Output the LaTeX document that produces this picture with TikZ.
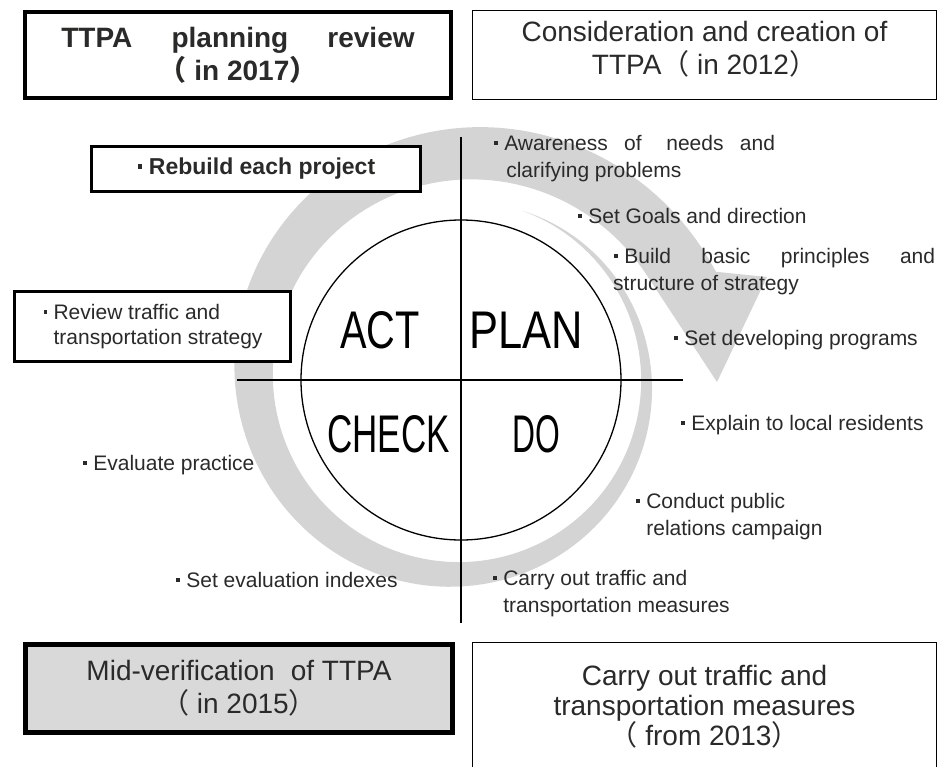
\documentclass[tikz,border=0pt]{standalone}
\usepackage{fontspec}
\setmainfont{Liberation Sans}
\newfontfamily\cjk{Noto Sans CJK JP}
\usepackage{graphicx}
\usepackage{tikz}

\definecolor{arrowgrey}{RGB}{212,212,212}
\definecolor{boxgrey}{RGB}{217,217,217}
\definecolor{ink}{RGB}{42,42,40}

\newcommand{\bul}{\kern.05em\rule[.28em]{.18em}{.18em}\kern.3em}
\newcommand{\fw}[1]{{\cjk #1}}
\newcommand{\narrow}[2]{\scalebox{#1}[1]{#2}}
\newcommand{\turn}[1]{((70-(#1))/407)}
\newcommand{\rin}[1]{180+35*\turn{#1}*\turn{#1}*\turn{#1}}
\newcommand{\rout}[1]{\rin{#1}+62*\turn{#1}}

\begin{document}
\begin{tikzpicture}[x=1pt, y=1pt,
    big box/.style={draw, fill=white, align=center, inner sep=0pt, text=ink, font=\fontsize{28}{33}\selectfont},
    side box/.style={draw, fill=white, line width=3.5pt, inner sep=0pt, text=ink},
    item/.style={anchor=north west, align=left, inner sep=0pt, text=ink, font=\fontsize{21}{27}\selectfont},
    phase/.style={anchor=base, inner sep=0pt, font=\fontsize{53}{53}\selectfont}
]
\path[use as bounding box, clip] (-461,-386) rectangle (478,380);

\fill[arrowgrey] plot[domain=70:-337, samples=160, variable=\ang] ({\ang}:{\rout{\ang}})
    -- (306,103) -- (256,-2)
    -- plot[domain=-331.4:70, samples=160, variable=\ang] ({\ang}:{\rin{\ang}}) -- cycle;

\node[circle, draw, line width=1.3pt, minimum size=320pt, inner sep=0pt] (pdca) at (0,0) {};
\coordinate (north end) at (0,243);
\coordinate (south end) at (0,-243);
\coordinate (west end) at (-224,0);
\coordinate (east end) at (222,0);
\draw[line width=1.3pt] (north end) -- (south end);
\draw[line width=1.3pt] (west end) -- (east end);

\node[phase] (act) at (-81,32) {\narrow{0.75}{ACT}};
\node[phase] (plan) at (65.5,32) {\narrow{0.82}{PLAN}};
\node[phase] (check) at (-72.5,-72) {\narrow{0.66}{CHECK}};
\node[phase] (do) at (75,-72) {\narrow{0.6}{DO}};

\node[big box, line width=4pt, minimum width=426pt, minimum height=86pt,
    font=\fontsize{28}{33}\selectfont\bfseries] (planreview) at (-223,325)
    {TTPA\hspace{1.4em}planning\hspace{1.4em}review\\\fw{（} in 2017\fw{）}};
\node[big box, line width=1.5pt, minimum width=464pt, minimum height=89pt,
    font=\fontsize{28}{28}\selectfont] (creation) at (243.5,325)
    {\raisebox{3pt}[\height][\depth]{\begin{tabular}{@{}c@{}}Consideration and creation of\\TTPA\fw{（} in 2012\fw{）}\end{tabular}}};
\node[big box, fill=boxgrey, line width=5pt, minimum width=427pt, minimum height=88pt] (midcheck) at (-222,-308.5)
    {Mid-verification\hspace{.3em} of TTPA\\\fw{（} in 2015\fw{）}};
\node[big box, line width=1.5pt, minimum width=464pt, minimum height=129pt,
    font=\fontsize{28}{30}\selectfont] (measures) at (243.5,-327)
    {Carry out traffic and\\transportation measures\\\fw{（} from 2013\fw{）}};

\node[side box, minimum width=329pt, minimum height=45pt,
    font=\fontsize{23}{27}\selectfont\bfseries] (rebuild) at (-205,211) {\bul Rebuild each project};
\node[side box, align=left, minimum width=276pt, minimum height=70pt,
    font=\fontsize{21}{25}\selectfont] (strategy) at (-308.5,53.5)
    {\bul Review traffic and\\\phantom{\bul}transportation strategy};

\node[item] (needs) at (32,245)
    {\bul Awareness\hspace{.5em} of\hspace{.9em} needs\hspace{.5em} and\\\phantom{\bul}\kern2pt clarifying problems};
\node[item] (goals) at (116,172) {\bul Set Goals and direction};
\node[item] (principles) at (152,132)
    {\bul Build\hspace{1.45em}basic\hspace{1.45em}principles\hspace{1.45em}and\\structure of strategy};
\node[item] (programs) at (212,50) {\bul Set developing programs};
\node[item] (residents) at (219,-35) {\bul Explain to local residents};
\node[item] (campaign) at (174,-113) {\bul Conduct public\\\phantom{\bul}relations campaign};
\node[item] (carryout) at (31,-190) {\bul Carry out traffic and\\\phantom{\bul}transportation measures};
\node[item] (evaluate) at (-379,-75) {\bul Evaluate practice};
\node[item] (indexes) at (-286,-192) {\bul Set evaluation indexes};
\end{tikzpicture}
\end{document}
